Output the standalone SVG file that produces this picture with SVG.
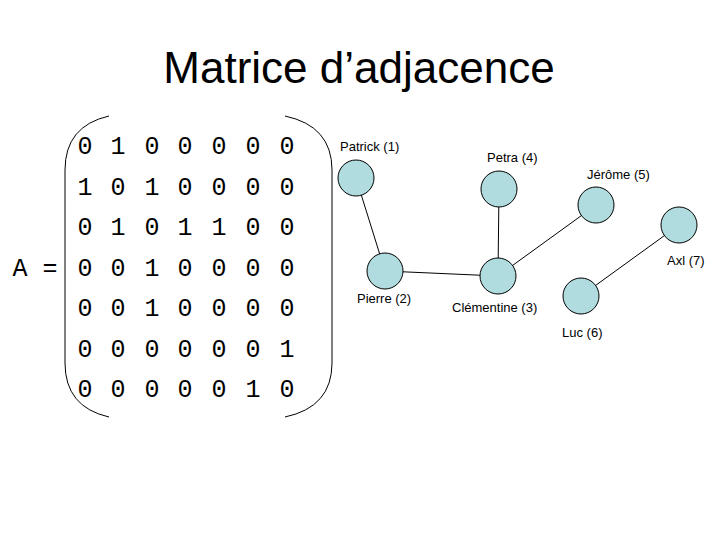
<svg xmlns="http://www.w3.org/2000/svg" width="720" height="540" viewBox="0 0 720 540">
<style>
.m{font-family:"Liberation Mono",monospace;font-size:25px;fill:#000;text-anchor:middle}
.l{font-family:"Liberation Sans",Arial,sans-serif;font-size:13px;fill:#000}
.n{fill:#b0dce0;stroke:#000;stroke-width:1}
.e{stroke:#000;stroke-width:1;fill:none}
</style>
<rect width="720" height="540" fill="#fff"/>
<text x="359" y="83" font-family="Liberation Sans,Arial,sans-serif" font-size="44" text-anchor="middle">Matrice d’adjacence</text>
<g id="matrix">
<path class="e" d="M109,116 Q65,126 65,170 L65,363 Q65,407 109,417"/>
<path class="e" d="M285,116 Q332,126 332,170 L332,363 Q332,407 285,417"/>
<text class="m" x="35" y="276">A =</text>
<g class="m">
<text x="85" y="154">0</text><text x="118" y="154">1</text><text x="152" y="154">0</text><text x="185" y="154">0</text><text x="219" y="154">0</text><text x="253" y="154">0</text><text x="287" y="154">0</text>
<text x="85" y="195">1</text><text x="118" y="195">0</text><text x="152" y="195">1</text><text x="185" y="195">0</text><text x="219" y="195">0</text><text x="253" y="195">0</text><text x="287" y="195">0</text>
<text x="85" y="235">0</text><text x="118" y="235">1</text><text x="152" y="235">0</text><text x="185" y="235">1</text><text x="219" y="235">1</text><text x="253" y="235">0</text><text x="287" y="235">0</text>
<text x="85" y="276">0</text><text x="118" y="276">0</text><text x="152" y="276">1</text><text x="185" y="276">0</text><text x="219" y="276">0</text><text x="253" y="276">0</text><text x="287" y="276">0</text>
<text x="85" y="316">0</text><text x="118" y="316">0</text><text x="152" y="316">1</text><text x="185" y="316">0</text><text x="219" y="316">0</text><text x="253" y="316">0</text><text x="287" y="316">0</text>
<text x="85" y="357">0</text><text x="118" y="357">0</text><text x="152" y="357">0</text><text x="185" y="357">0</text><text x="219" y="357">0</text><text x="253" y="357">0</text><text x="287" y="357">1</text>
<text x="85" y="397">0</text><text x="118" y="397">0</text><text x="152" y="397">0</text><text x="185" y="397">0</text><text x="219" y="397">0</text><text x="253" y="397">1</text><text x="287" y="397">0</text>
</g>
</g>
<g id="connectors" class="e">
<line x1="356" y1="178" x2="385" y2="271"/>
<line x1="385" y1="271" x2="498" y2="276"/>
<line x1="498" y1="276" x2="499" y2="189"/>
<line x1="498" y1="276" x2="596" y2="205"/>
<line x1="581" y1="296" x2="679" y2="225"/>
</g>
<g id="n1"><circle class="n" cx="356" cy="178" r="18"/><text class="l" x="340" y="151">Patrick (1)</text></g>
<g id="n2"><circle class="n" cx="385" cy="271" r="18"/><text class="l" x="357" y="303">Pierre (2)</text></g>
<g id="n3"><circle class="n" cx="498" cy="276" r="18"/><text class="l" x="452" y="312">Clémentine (3)</text></g>
<g id="n4"><circle class="n" cx="499" cy="189" r="18"/><text class="l" x="487" y="162">Petra (4)</text></g>
<g id="n5"><circle class="n" cx="596" cy="205" r="18"/><text class="l" x="587" y="179">Jérôme (5)</text></g>
<g id="n6"><circle class="n" cx="581" cy="296" r="18"/><text class="l" x="562" y="337">Luc (6)</text></g>
<g id="n7"><circle class="n" cx="679" cy="225" r="18"/><text class="l" x="667" y="265">Axl (7)</text></g>
</svg>
